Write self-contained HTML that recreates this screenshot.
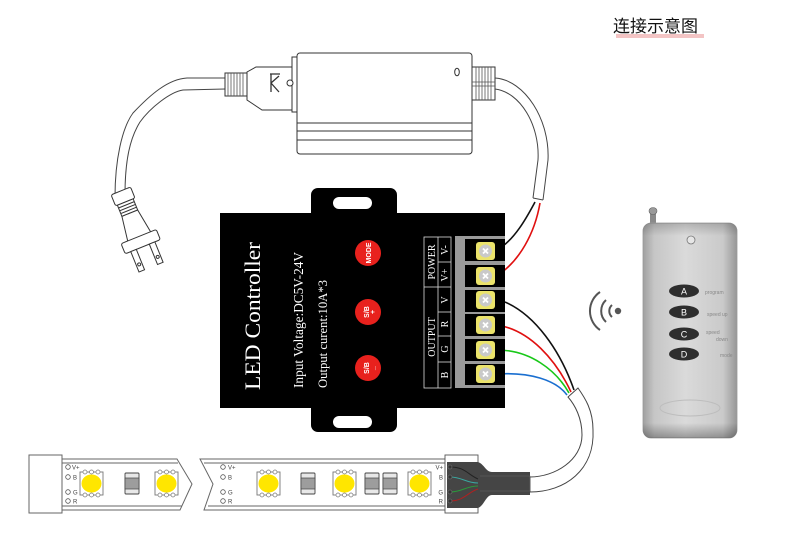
<!DOCTYPE html>
<html><head><meta charset="utf-8"><style>
html,body{margin:0;padding:0;background:#fff;}
svg{display:block;}
</style></head><body>
<svg width="790" height="555" viewBox="0 0 790 555" xmlns="http://www.w3.org/2000/svg">
<defs>
<linearGradient id="rg" x1="0" y1="0" x2="1" y2="0">
<stop offset="0" stop-color="#a0a0a0"/><stop offset="0.12" stop-color="#c6c6c6"/><stop offset="0.45" stop-color="#dadada"/><stop offset="0.85" stop-color="#cacaca"/><stop offset="1" stop-color="#969696"/>
</linearGradient>
<linearGradient id="rgv" x1="0" y1="0" x2="0" y2="1">
<stop offset="0" stop-color="#000" stop-opacity="0.18"/><stop offset="0.06" stop-color="#000" stop-opacity="0"/><stop offset="0.93" stop-color="#000" stop-opacity="0"/><stop offset="1" stop-color="#000" stop-opacity="0.3"/>
</linearGradient>
</defs>
<rect width="790" height="555" fill="#fff"/>

<!-- title -->
<rect x="616" y="34" width="88" height="4" fill="#f3c4c4"/>
<text x="613" y="32" font-size="17" font-family="Liberation Sans, Noto Sans CJK SC, sans-serif" fill="#111">连接示意图</text>

<!-- left cable -->
<g fill="none" stroke="#444" stroke-width="1">
<path d="M225,78 L187,78 C168,79 150,95 133,113 C122,128 115,160 115,197"/>
<path d="M225,89 L183,90 C170,92 150,108 140,122 C130,138 125,160 125,195"/>
</g>
<!-- plug -->
<g transform="rotate(-22 125 200)" stroke="#333" stroke-width="1" fill="#fff">
<rect x="114" y="190" width="21" height="12" rx="2"/>
<rect x="116" y="202" width="17" height="12"/>
<line x1="116" y1="205" x2="133" y2="205"/><line x1="116" y1="208" x2="133" y2="208"/><line x1="116" y1="211" x2="133" y2="211"/>
<path d="M116,214 L133,214 L137,240 L112,240 Z"/>
<rect x="105" y="239" width="38" height="11" rx="2"/>
<rect x="111" y="250" width="6" height="22"/>
<rect x="131" y="250" width="6" height="22"/>
<circle cx="114" cy="265" r="1.5"/><circle cx="134" cy="265" r="1.5"/>
</g>

<!-- power supply -->
<g stroke="#333" stroke-width="1" fill="#fff">
<rect x="297" y="53" width="175" height="101" rx="3"/>
<line x1="297" y1="123" x2="472" y2="123"/>
<line x1="297" y1="131" x2="472" y2="131"/>
<line x1="297" y1="140" x2="472" y2="140"/>
<ellipse cx="457" cy="72" rx="2.3" ry="3.8"/>
<rect x="292" y="57" width="5" height="55"/>
<path d="M247,72 L256,67 L292,67 L292,110 L262,110 L247,100 Z"/>
<path d="M270,74 L280,74 M271,74 L271,92 M271,83 L279,76 M271,83 L279,92" stroke-width="1.3"/>
<circle cx="290" cy="83" r="3"/>
<rect x="225" y="73" width="22" height="23"/>
<rect x="472" y="67" width="23" height="33"/>
</g>
<g stroke="#555" stroke-width="0.8">
<line x1="228" y1="73" x2="228" y2="96"/><line x1="231" y1="73" x2="231" y2="96"/><line x1="234" y1="73" x2="234" y2="96"/><line x1="237" y1="73" x2="237" y2="96"/><line x1="240" y1="73" x2="240" y2="96"/><line x1="243" y1="73" x2="243" y2="96"/>
<line x1="476" y1="67" x2="476" y2="100"/><line x1="479" y1="67" x2="479" y2="100"/><line x1="482" y1="67" x2="482" y2="100"/><line x1="485" y1="67" x2="485" y2="100"/><line x1="488" y1="67" x2="488" y2="100"/><line x1="491" y1="67" x2="491" y2="100"/>
<line x1="472" y1="82" x2="495" y2="82"/><line x1="472" y1="86" x2="495" y2="86"/>
</g>
<!-- right cable -->
<g fill="none" stroke="#444" stroke-width="1">
<path d="M495,78 C525,80 550,120 548,160 L543,200"/>
<path d="M495,89 C520,92 540,125 538,160 L533,198"/>
<path d="M533,198 L543,200"/>
</g>
<path d="M497,250 C515,240 528,215 535,202" stroke="#111" stroke-width="1.6" fill="none"/>
<path d="M495,277 C520,262 535,232 540,203" stroke="#e01010" stroke-width="1.6" fill="none"/>

<!-- output wires -->
<path d="M505,302 C535,315 560,350 574,390" stroke="#111" stroke-width="1.6" fill="none"/>
<path d="M497,325 C530,330 556,360 571,392" stroke="#e01010" stroke-width="1.6" fill="none"/>
<path d="M497,350 C530,350 556,370 569,393" stroke="#18c818" stroke-width="1.6" fill="none"/>
<path d="M497,374 C530,372 556,380 567,395" stroke="#1a6fd0" stroke-width="1.6" fill="none"/>
<!-- bottom cable -->
<path d="M530,477 C555,477 582,460 582,435 C582,418 575,405 568,397 L578,388 C585,398 593,410 593,430 C595,470 565,492 530,492 Z" fill="#fff" stroke="#444" stroke-width="1"/>

<!-- controller -->
<rect x="311" y="188" width="86" height="244" rx="7" fill="#000"/>
<rect x="220" y="213" width="285" height="195" fill="#000"/>
<rect x="333" y="197" width="39" height="12" rx="6" fill="#fff"/>
<rect x="333" y="416" width="39" height="12" rx="6" fill="#fff"/>
<g fill="#fff" font-family="Liberation Serif, serif">
<text transform="translate(260,390) rotate(-90)" font-size="22" textLength="148" lengthAdjust="spacingAndGlyphs">LED Controller</text>
<text transform="translate(303,388) rotate(-90)" font-size="14" textLength="136" lengthAdjust="spacingAndGlyphs">Input Voltage:DC5V-24V</text>
<text transform="translate(327,388) rotate(-90)" font-size="13" textLength="108" lengthAdjust="spacingAndGlyphs">Output curent:10A*3</text>
</g>
<g fill="#e8211d">
<circle cx="368" cy="253" r="13"/>
<circle cx="368" cy="312" r="13"/>
<circle cx="368" cy="368" r="13"/>
</g>
<g fill="#fff" font-family="Liberation Sans, sans-serif" font-weight="bold" text-anchor="middle">
<text transform="translate(371,253) rotate(-90)" font-size="7">MODE</text>
<text transform="translate(369,312) rotate(-90)" font-size="7">S/B</text>
<text transform="translate(375,312) rotate(-90)" font-size="7">+</text>
<text transform="translate(369,368) rotate(-90)" font-size="7">S/B</text>
<text transform="translate(375,368) rotate(-90)" font-size="7">_</text>
</g>
<!-- label table -->
<g stroke="#ddd" stroke-width="0.8" fill="none">
<rect x="424" y="237" width="27" height="151"/>
<line x1="438" y1="237" x2="438" y2="388"/>
<line x1="424" y1="287" x2="438" y2="287"/>
<line x1="438" y1="262" x2="451" y2="262"/>
<line x1="438" y1="287" x2="451" y2="287"/>
<line x1="438" y1="312" x2="451" y2="312"/>
<line x1="438" y1="336" x2="451" y2="336"/>
<line x1="438" y1="362" x2="451" y2="362"/>
</g>
<g fill="#fff" font-family="Liberation Serif, serif" font-size="10" text-anchor="middle">
<text transform="translate(435,262) rotate(-90)">POWER</text>
<text transform="translate(435,337) rotate(-90)">OUTPUT</text>
<text transform="translate(448,250) rotate(-90)">V-</text>
<text transform="translate(448,275) rotate(-90)">V+</text>
<text transform="translate(448,300) rotate(-90)">V</text>
<text transform="translate(448,324) rotate(-90)">R</text>
<text transform="translate(448,349) rotate(-90)">G</text>
<text transform="translate(448,375) rotate(-90)">B</text>
</g>
<!-- terminal block -->
<rect x="455" y="236" width="50" height="152" fill="#9a9a9a"/>
<g fill="#000">
<rect x="465" y="239" width="40" height="22"/>
<rect x="465" y="265" width="40" height="22"/>
<rect x="465" y="290" width="40" height="22"/>
<rect x="465" y="314" width="40" height="22"/>
<rect x="465" y="339" width="40" height="22"/>
<rect x="465" y="364" width="40" height="21"/>
</g>
<g id="term">
<rect x="476" y="242" width="19" height="18" rx="3" fill="#ebe36b"/>
<circle cx="485.5" cy="251" r="6.5" fill="#c9c9c9"/>
<path d="M483,248.5 L488,253.5 M488,248.5 L483,253.5" stroke="#fff" stroke-width="1.8"/>
</g>
<use href="#term" y="25"/>
<use href="#term" y="49"/>
<use href="#term" y="74"/>
<use href="#term" y="99"/>
<use href="#term" y="123"/>

<!-- wifi icon -->
<circle cx="618" cy="311" r="3.2" fill="#555"/>
<g fill="none" stroke="#555" stroke-width="2">
<path d="M612,305 A8,8 0 0 0 612,317"/>
<path d="M606,300 A15,15 0 0 0 606,322"/>
<path d="M600,292 A23,23 0 0 0 600,330"/>
</g>

<!-- remote -->
<rect x="650" y="213" width="6" height="11" fill="#8a8a8a"/>
<ellipse cx="653" cy="211" rx="4" ry="3.5" fill="#9a9a9a" stroke="#666" stroke-width="0.6"/>
<rect x="643" y="223" width="94" height="215" rx="8" fill="url(#rg)" stroke="#999" stroke-width="0.8"/>
<rect x="643" y="223" width="94" height="215" rx="8" fill="url(#rgv)"/>
<circle cx="691" cy="240" r="4" fill="#e6e6e6" stroke="#777" stroke-width="0.8"/>
<g fill="#2e2e2e">
<ellipse cx="684" cy="291" rx="15" ry="6.5"/>
<ellipse cx="684" cy="312" rx="15" ry="6.5"/>
<ellipse cx="684" cy="334" rx="15" ry="6.5"/>
<ellipse cx="684" cy="354" rx="15" ry="6.5"/>
</g>
<g fill="#fff" font-family="Liberation Sans, sans-serif" font-size="9" text-anchor="middle">
<text x="684" y="294.5">A</text><text x="684" y="315.5">B</text><text x="684" y="337.5">C</text><text x="684" y="357.5">D</text>
</g>
<g fill="#888" font-family="Liberation Sans, sans-serif" font-size="5">
<text x="705" y="294">program</text>
<text x="707" y="316">speed up</text>
<text x="706" y="334">speed</text>
<text x="716" y="341">down</text>
<text x="720" y="357">mode</text>
</g>
<ellipse cx="690" cy="408" rx="30" ry="8" fill="none" stroke="#bdbdbd" stroke-width="1"/>

<!-- LED strip -->
<g stroke="#666" stroke-width="1" fill="#fff">
<rect x="29" y="455" width="33" height="58"/>
<path d="M62,459 L177,459 L192,484 L180,510 L62,510 Z"/>
<path d="M62,463 L178,463 M62,506 L182,506" fill="none"/>
<path d="M200,459 L447,459 L447,510 L204,510 L213,484 Z"/>
<path d="M204,463 L447,463 M208,506 L447,506" fill="none"/>
</g>
<g id="led">
<rect x="80" y="472" width="23" height="23" fill="#fff" stroke="#777" stroke-width="0.9"/>
<circle cx="85" cy="472" r="2" fill="#fff" stroke="#777" stroke-width="0.7"/>
<circle cx="91.5" cy="472" r="2" fill="#fff" stroke="#777" stroke-width="0.7"/>
<circle cx="98" cy="472" r="2" fill="#fff" stroke="#777" stroke-width="0.7"/>
<circle cx="85" cy="495" r="2" fill="#fff" stroke="#777" stroke-width="0.7"/>
<circle cx="91.5" cy="495" r="2" fill="#fff" stroke="#777" stroke-width="0.7"/>
<circle cx="98" cy="495" r="2" fill="#fff" stroke="#777" stroke-width="0.7"/>
<ellipse cx="91.5" cy="483.5" rx="10" ry="9" fill="#ffe600"/>
</g>
<use href="#led" x="75"/>
<use href="#led" x="177"/>
<use href="#led" x="253"/>
<use href="#led" x="328"/>
<g id="res">
<rect x="125" y="473" width="14" height="21" rx="1" fill="#e8e8e8" stroke="#444" stroke-width="0.9"/>
<rect x="125" y="478" width="14" height="11" fill="#9d9d9d" stroke="#444" stroke-width="0.7"/>
</g>
<use href="#res" x="176"/>
<use href="#res" x="240"/>
<use href="#res" x="258"/>
<g fill="none" stroke="#555" stroke-width="0.8">
<circle cx="68" cy="467" r="2.3"/><circle cx="68" cy="477" r="2.3"/><circle cx="68" cy="492" r="2.3"/><circle cx="68" cy="501" r="2.3"/>
<circle cx="223" cy="467" r="2.3"/><circle cx="223" cy="477" r="2.3"/><circle cx="223" cy="492" r="2.3"/><circle cx="223" cy="501" r="2.3"/>
</g>
<g fill="#444" font-family="Liberation Sans, sans-serif" font-size="6">
<text x="72" y="469.5">V+</text><text x="73" y="479.5">B</text><text x="73" y="494.5">G</text><text x="73" y="503.5">R</text>
<text x="228" y="469.5">V+</text><text x="228" y="479.5">B</text><text x="228" y="494.5">G</text><text x="228" y="503.5">R</text>
<g text-anchor="end"><text x="443" y="469.5">V+</text><text x="443" y="479.5">B</text><text x="443" y="494.5">G</text><text x="443" y="503.5">R</text></g>
</g>
<!-- end connector -->
<rect x="445" y="455" width="33" height="58" fill="#fff" stroke="#555" stroke-width="0.9"/>
<rect x="447" y="462" width="31" height="46" fill="#454545"/>
<path d="M478,462 C484,464 486,472 492,472 L530,472 L530,495 L492,495 C486,495 484,506 478,508 Z" fill="#454545"/>
<path d="M480,476 L530,476 L530,491 L480,491" fill="none" stroke="#666" stroke-width="0.6"/>
<g fill="none" stroke-width="1">
<path d="M450,467 C465,467 467,474 478,479" stroke="#222"/>
<path d="M450,477 C462,477 466,483 478,483" stroke="#3aa8a0"/>
<path d="M450,492 C462,492 466,486 478,486" stroke="#2a9a3a"/>
<path d="M450,501 C464,501 468,492 478,489" stroke="#b02020"/>
</g>
<g fill="#333" stroke="#777" stroke-width="0.6">
<circle cx="450" cy="467" r="2"/><circle cx="450" cy="477" r="2"/><circle cx="450" cy="492" r="2"/><circle cx="450" cy="501" r="2"/>
</g>
</svg>
</body></html>
